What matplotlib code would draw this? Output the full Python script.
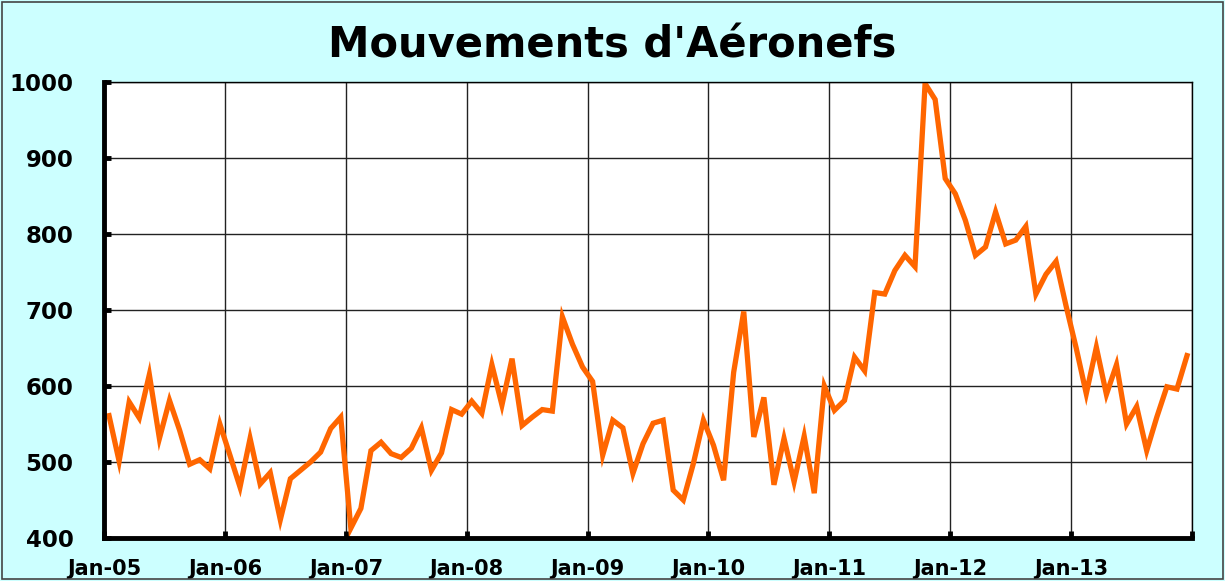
import matplotlib
matplotlib.use("Agg")
import matplotlib.pyplot as plt
import numpy as np

# Monthly aircraft movements, Jan-05 .. Dec-13
years = ["05", "06", "07", "08", "09", "10", "11", "12", "13"]
months = [f"{m}-{y}" for y in years for m in
          ["Jan", "Feb", "Mar", "Apr", "May", "Jun", "Jul", "Aug", "Sep", "Oct", "Nov", "Dec"]]

values_2005 = [561, 501, 579, 558, 615, 531, 581, 542, 497, 503, 491, 550]
values_2006 = [509, 467, 531, 471, 486, 424, 478, 489, 500, 513, 544, 559]
values_2007 = [413, 439, 515, 526, 511, 506, 518, 545, 489, 512, 569, 563]
values_2008 = [580, 564, 628, 575, 636, 548, 559, 569, 567, 691, 655, 625]
values_2009 = [606, 509, 555, 545, 485, 524, 551, 555, 463, 450, 498, 555]
values_2010 = [522, 476, 618, 698, 533, 585, 470, 531, 474, 534, 459, 600]
values_2011 = [568, 581, 638, 620, 723, 721, 752, 772, 757, 998, 977, 873]
values_2012 = [853, 818, 772, 783, 829, 787, 792, 810, 721, 747, 764, 705]
values_2013 = [650, 590, 651, 589, 628, 550, 573, 515, 559, 599, 596, 640]

values = (values_2005 + values_2006 + values_2007 + values_2008 + values_2009
          + values_2010 + values_2011 + values_2012 + values_2013)

year_labels = ["Jan-05", "Jan-06", "Jan-07", "Jan-08", "Jan-09",
               "Jan-10", "Jan-11", "Jan-12", "Jan-13", ""]
y_ticks = [400, 500, 600, 700, 800, 900, 1000]

BG = "#CCFFFF"
LINE = "#FF6600"
FONT = "DejaVu Sans"

fig = plt.figure(figsize=(12.25, 5.81), dpi=100, facecolor=BG)
# outer border
fig.patches.append(plt.Rectangle((0.002, 0.003), 0.996, 0.994, transform=fig.transFigure,
                                 fill=False, edgecolor="#444444", linewidth=1.2))

ax = fig.add_axes([0.0849, 0.074, 0.8882, 0.7848])
ax.set_facecolor("white")

x = np.arange(len(values))
ax.plot(x, values, color=LINE, linewidth=3.8, solid_joinstyle="miter", zorder=3)

ax.set_xlim(-0.5, len(values) - 0.5)
ax.set_ylim(400, 1000)

xt = [-0.5 + 12 * k for k in range(len(year_labels))]
ax.set_xticks(xt)
ax.set_xticklabels(year_labels)
ax.set_yticks(y_ticks)
ax.set_yticklabels([str(v) for v in y_ticks])

ax.grid(True, color="#222222", linewidth=1.0, zorder=1)
ax.set_axisbelow(True)

for lab in ax.get_yticklabels():
    lab.set_fontfamily(FONT)
    lab.set_fontweight("bold")
    lab.set_fontsize(16.5)
    lab.set_color("black")
for lab in ax.get_xticklabels():
    lab.set_fontfamily(FONT)
    lab.set_fontweight("bold")
    lab.set_fontsize(15)
    lab.set_color("black")

ax.tick_params(axis="both", direction="in", length=5, width=3.5, color="black")
ax.tick_params(axis="x", pad=15)
ax.tick_params(axis="y", pad=22)

ax.spines["left"].set_linewidth(3.5)
ax.spines["bottom"].set_linewidth(3.5)
ax.spines["top"].set_linewidth(1.0)
ax.spines["right"].set_linewidth(1.0)
for s in ax.spines.values():
    s.set_color("black")
    s.set_zorder(4)

fig.text(0.5, 0.922, "Mouvements d'Aéronefs", ha="center", va="center",
         fontsize=30, fontweight="bold", family=FONT, color="black")

fig.savefig("out.png", dpi=100, facecolor=BG)
